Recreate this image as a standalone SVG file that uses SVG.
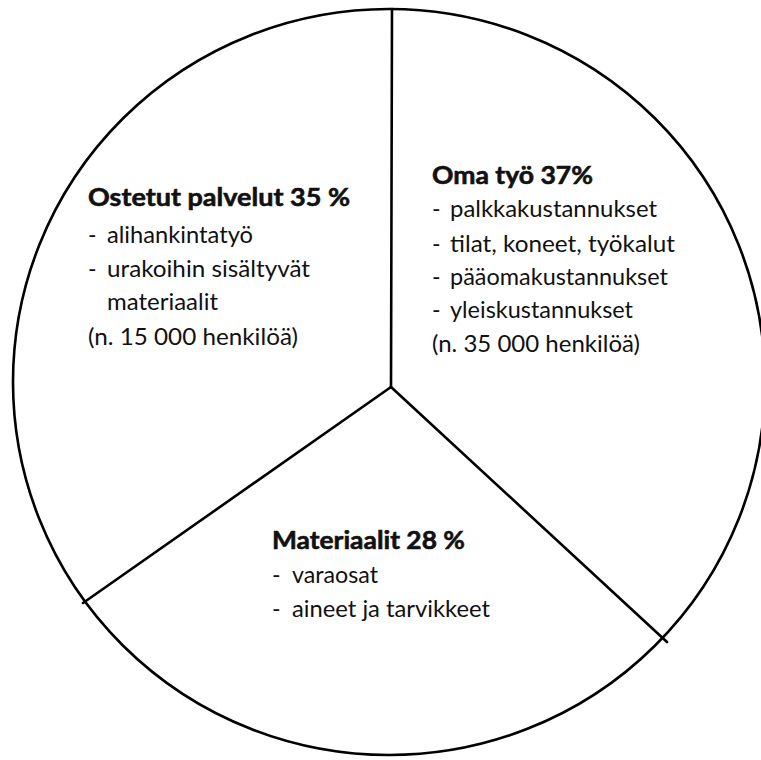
<svg xmlns="http://www.w3.org/2000/svg" width="761" height="760" viewBox="0 0 761 760">
<style>
.edge{fill:none;stroke:#000;stroke-width:2.6;stroke-linecap:round}
text{font-family:Lato,"Open Sans","Liberation Sans",sans-serif;font-size:23px;fill:#111}
.h{font-weight:bold;font-size:25px;stroke:#111;stroke-width:0.6}
</style>
<rect width="761" height="760" fill="#fff"/>
<g id="connectors">
<ellipse class="edge" cx="389" cy="382" rx="376" ry="373"/>
<line class="edge" x1="391" y1="387" x2="392" y2="9"/>
<line class="edge" x1="391" y1="387" x2="83" y2="603"/>
<line class="edge" x1="391" y1="387" x2="667" y2="642"/>
</g>
<g id="ostetut">
<text class="h" x="88" y="206" textLength="262" lengthAdjust="spacingAndGlyphs">Ostetut palvelut 35 %</text>
<text x="88" y="243">-</text><text x="107" y="243" textLength="146" lengthAdjust="spacingAndGlyphs">alihankintatyö</text>
<text x="88" y="277">-</text><text x="107" y="277" textLength="203" lengthAdjust="spacingAndGlyphs">urakoihin sisältyvät</text>
<text x="107" y="310" textLength="111" lengthAdjust="spacingAndGlyphs">materiaalit</text>
<text x="88" y="345" textLength="210" lengthAdjust="spacingAndGlyphs">(n. 15 000 henkilöä)</text>
</g>
<g id="oma">
<text class="h" x="432" y="184" textLength="161" lengthAdjust="spacingAndGlyphs">Oma työ 37%</text>
<text x="432" y="217">-</text><text x="450" y="217" textLength="207" lengthAdjust="spacingAndGlyphs">palkkakustannukset</text>
<text x="432" y="252">-</text><text x="450" y="252" textLength="225" lengthAdjust="spacingAndGlyphs">tilat, koneet, työkalut</text>
<text x="432" y="285">-</text><text x="450" y="285" textLength="218" lengthAdjust="spacingAndGlyphs">pääomakustannukset</text>
<text x="432" y="318">-</text><text x="450" y="318" textLength="183" lengthAdjust="spacingAndGlyphs">yleiskustannukset</text>
<text x="432" y="352" textLength="208" lengthAdjust="spacingAndGlyphs">(n. 35 000 henkilöä)</text>
</g>
<g id="materiaalit">
<text class="h" x="272" y="549" textLength="193" lengthAdjust="spacingAndGlyphs">Materiaalit 28 %</text>
<text x="272" y="583">-</text><text x="292" y="583" textLength="86" lengthAdjust="spacingAndGlyphs">varaosat</text>
<text x="272" y="617">-</text><text x="292" y="617" textLength="198" lengthAdjust="spacingAndGlyphs">aineet ja tarvikkeet</text>
</g>
</svg>
